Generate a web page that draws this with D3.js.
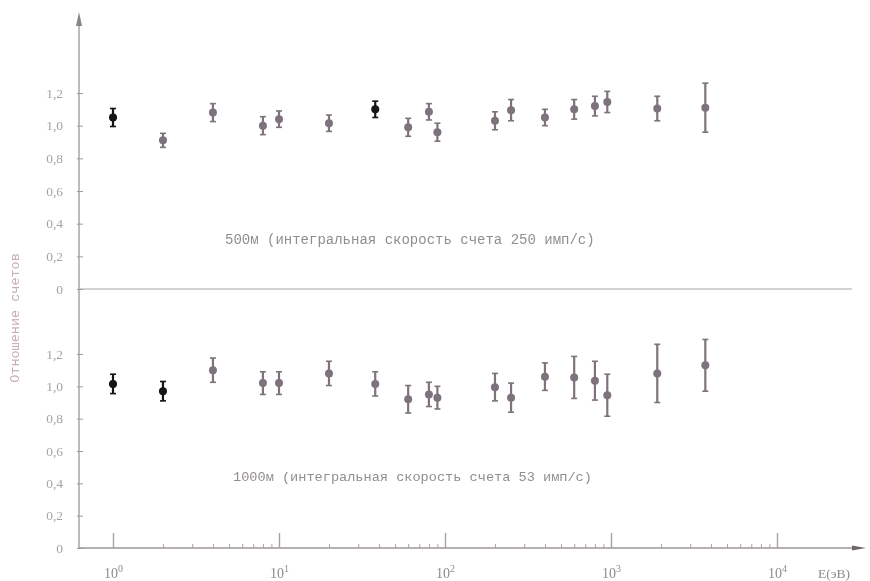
<!DOCTYPE html>
<meta charset="utf-8">
<style>
body { margin: 0; background: #fff; }
svg { display: block; }
.ylab text { font-family: "Liberation Serif", "DejaVu Serif", serif; font-size: 13.5px; fill: #a8a2a6; }
.xlab text { font-family: "Liberation Serif", "DejaVu Serif", serif; font-size: 14px; fill: #8c8a8c; }
.note { font-family: "Liberation Mono", "DejaVu Sans Mono", monospace; font-size: 14px; fill: #928d90; }
</style>
<body>
<svg id="chart" width="870" height="581"></svg>
<script src="https://cdn.jsdelivr.net/npm/d3@7"></script>
<script>

// энергии (эВ), общие для обеих серий
var energy = [1, 2, 4, 8, 10, 20, 38, 60, 80, 90, 200, 250, 400, 600, 800, 950, 1900, 3700];

// 500 м
var ratio500 = [1.05, 0.91, 1.08, 1.00, 1.04, 1.015, 1.10, 0.99, 1.085, 0.96, 1.03, 1.095, 1.05, 1.10, 1.12, 1.145, 1.105, 1.11];
var err500   = [0.055, 0.043, 0.055, 0.055, 0.05, 0.05, 0.05, 0.055, 0.05, 0.055, 0.055, 0.065, 0.05, 0.06, 0.06, 0.065, 0.075, 0.15];
var group500 = ["A","B","B","B","B","B","A","B","B","B","B","B","B","B","B","B","B","B"];

// 1000 м
var ratio1000 = [1.015, 0.97, 1.10, 1.02, 1.02, 1.08, 1.015, 0.92, 0.95, 0.93, 0.995, 0.93, 1.06, 1.055, 1.035, 0.945, 1.08, 1.13];
var err1000   = [0.06, 0.06, 0.075, 0.07, 0.07, 0.075, 0.075, 0.085, 0.075, 0.07, 0.085, 0.09, 0.085, 0.13, 0.12, 0.13, 0.18, 0.16];
var group1000 = ["A","A","B","B","B","B","B","B","B","B","B","B","B","B","B","B","B","B"];

var yTicks = [0, 0.2, 0.4, 0.6, 0.8, 1.0, 1.2];
var decades = [1, 10, 100, 1000, 10000];
var decadeExp = ["0", "1", "2", "3", "4"];

var notes = ["500м (интегральная скорость счета 250 имп/с)",
             "1000м (интегральная скорость счета 53 имп/с)"];

var svg = d3.select("#chart");

svg.append("defs").append("filter").attr("id", "scan")
  .append("feGaussianBlur").attr("stdDeviation", 0.45);

var g = svg.append("g").attr("filter", "url(#scan)");

var axisX = 79, baseY = 548;

var x = d3.scaleLog().domain([1, 10000]).range([113, 777]);
var yTop = d3.scaleLinear().domain([0, 1.2]).range([289, 93]);
var yBot = d3.scaleLinear().domain([0, 1.2]).range([548, 354]);

var color = d3.scaleOrdinal().domain(["A", "B"]).range(["#151214", "#7e727c"]);

// оси
g.append("line")
  .attr("x1", axisX).attr("x2", axisX).attr("y1", 20).attr("y2", baseY)
  .attr("stroke", "#9a9498").attr("stroke-width", 1.3);
g.append("path")
  .attr("d", "M" + axisX + ",12 L" + (axisX - 3) + ",26 L" + (axisX + 3) + ",26 Z")
  .attr("fill", "#8a8488");

g.append("line")
  .attr("x1", axisX).attr("x2", 852).attr("y1", yTop(0)).attr("y2", yTop(0))
  .attr("stroke", "#a9a3a7").attr("stroke-width", 1.2);

g.append("line")
  .attr("x1", axisX).attr("x2", 858).attr("y1", baseY).attr("y2", baseY)
  .attr("stroke", "#9a9498").attr("stroke-width", 1.3);
g.append("path")
  .attr("d", "M866," + baseY + " L852," + (baseY - 2.5) + " L852," + (baseY + 2.5) + " Z")
  .attr("fill", "#6e686c");

function yAxis(scale) {
  var a = g.append("g").attr("class", "ylab")
    .attr("transform", "translate(" + axisX + ",0)")
    .call(d3.axisLeft(scale).tickValues(yTicks)
      .tickSizeInner(-4).tickSizeOuter(0).tickPadding(16)
      .tickFormat(function(d) { return d === 0 ? "0" : d3.format(".1f")(d).replace(".", ","); }));
  a.select(".domain").remove();
  a.selectAll(".tick line").attr("x1", -2).attr("stroke", "#a09aa0");
}
yAxis(yTop);
yAxis(yBot);

// логарифмическая шкала энергии
var minor = [];
decades.slice(0, -1).forEach(function(d) {
  for (var k = 2; k <= 9; k++) minor.push(d * k);
});

var xm = g.append("g").attr("transform", "translate(0," + baseY + ")")
  .call(d3.axisBottom(x).tickValues(minor).tickSize(-4).tickFormat(""));
xm.select(".domain").remove();
xm.selectAll(".tick line").attr("stroke", "#b09ca6");

var xa = g.append("g").attr("class", "xlab").attr("transform", "translate(0," + baseY + ")")
  .call(d3.axisBottom(x).tickValues(decades).tickSize(-15).tickPadding(30).tickFormat(""));
xa.select(".domain").remove();
xa.selectAll(".tick line").attr("stroke", "#a8a0a6").attr("stroke-width", 1.4);
xa.selectAll(".tick text").each(function(d, i) {
  var t = d3.select(this).attr("dy", 0);
  t.append("tspan").text("10");
  t.append("tspan").attr("dy", -6).style("font-size", "10px").text(decadeExp[i]);
});

g.append("text").attr("class", "xlab")
  .attr("x", 818).attr("y", 578)
  .style("font-family", "Liberation Serif, serif").style("font-size", "13.5px").style("fill", "#8c8a8c")
  .text("E(эВ)");

g.append("text")
  .attr("class", "note")
  .attr("transform", "translate(19,318) rotate(-90)")
  .attr("text-anchor", "middle")
  .style("font-size", "13.5px").style("fill", "#c7aeb4")
  .text("Отношение счетов");

// подписи
g.append("text").attr("class", "note").attr("x", 225).attr("y", 244).text(notes[0]);
g.append("text").attr("class", "note").attr("x", 233).attr("y", 481).style("font-size", "13.6px").text(notes[1]);

// точки с погрешностями
function series(vals, errs, groups, scale) {
  var data = energy.map(function(e, i) {
    return { e: e, v: vals[i], err: errs[i], grp: groups[i] };
  });
  var pt = g.append("g").selectAll("g").data(data).enter().append("g")
    .attr("stroke", function(d) { return color(d.grp); })
    .attr("fill", function(d) { return color(d.grp); });
  pt.append("line")
    .attr("x1", function(d) { return x(d.e); }).attr("x2", function(d) { return x(d.e); })
    .attr("y1", function(d) { return scale(d.v + d.err); })
    .attr("y2", function(d) { return scale(d.v - d.err); })
    .attr("stroke-width", 2.2);
  [1, -1].forEach(function(s) {
    pt.append("line")
      .attr("x1", function(d) { return x(d.e) - 3; }).attr("x2", function(d) { return x(d.e) + 3; })
      .attr("y1", function(d) { return scale(d.v + s * d.err); })
      .attr("y2", function(d) { return scale(d.v + s * d.err); })
      .attr("stroke-width", 1.6);
  });
  pt.append("circle")
    .attr("cx", function(d) { return x(d.e); })
    .attr("cy", function(d) { return scale(d.v); })
    .attr("r", 4).attr("stroke", "none");
}
series(ratio500, err500, group500, yTop);
series(ratio1000, err1000, group1000, yBot);

</script>
</body>
